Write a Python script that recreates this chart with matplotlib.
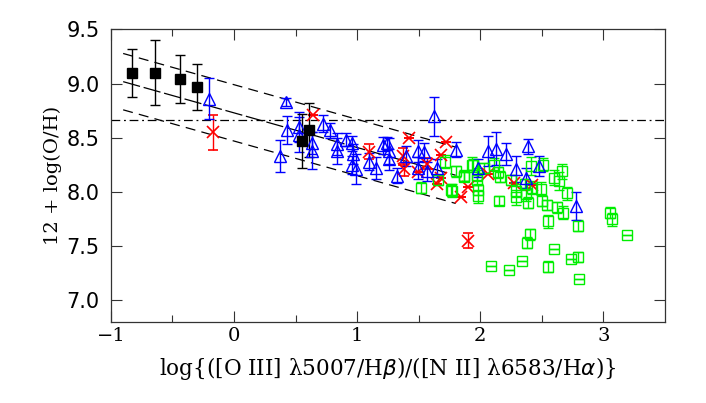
import numpy as np
import matplotlib
matplotlib.use("Agg")
import matplotlib.pyplot as plt

# black filled squares
blk_x = [-0.83, -0.64, -0.44, -0.30, 0.55, 0.61]
blk_y = [9.10, 9.10, 9.04, 8.97, 8.47, 8.57]
blk_e = [0.22, 0.30, 0.22, 0.21, 0.25, 0.25]

# red crosses
red_x = [-0.17, 0.64, 1.10, 1.42, 1.37, 1.38, 1.49, 1.57, 1.72, 1.68, 1.68, 1.65, 1.90, 1.84, 2.06, 1.90, 2.27, 2.42]
red_y = [8.55, 8.71, 8.37, 8.50, 8.33, 8.21, 8.18, 8.26, 8.46, 8.34, 8.13, 8.07, 8.05, 7.95, 8.17, 7.55, 8.08, 8.06]
red_e = [0.16, 0.0, 0.07, 0.0, 0.08, 0.06, 0.0, 0.05, 0.0, 0.0, 0.0, 0.0, 0.0, 0.0, 0.0, 0.07, 0.0, 0.0]

# blue open triangles
blu_x = [-0.20, 0.42, 0.37, 0.43, 0.53, 0.53, 0.63, 0.63, 0.72, 0.78, 0.84, 0.84, 0.91, 0.96,
         0.97, 0.96, 0.99, 1.10, 1.15, 1.21, 1.24, 1.26, 1.26, 1.32, 1.40, 1.49, 1.49, 1.54,
         1.57, 1.62, 1.65, 1.80, 1.98, 2.06, 2.13, 2.21, 2.29, 2.37, 2.39, 2.48, 2.78]
blu_y = [8.86, 8.83, 8.33, 8.57, 8.60, 8.53, 8.45, 8.38, 8.63, 8.57, 8.44, 8.38, 8.48, 8.45,
         8.35, 8.25, 8.21, 8.28, 8.22, 8.43, 8.45, 8.38, 8.30, 8.15, 8.33, 8.38, 8.22, 8.37,
         8.19, 8.70, 8.22, 8.39, 8.22, 8.38, 8.40, 8.35, 8.21, 8.13, 8.42, 8.24, 7.87]
blu_e = [0.19, 0.04, 0.15, 0.13, 0.14, 0.16, 0.10, 0.17, 0.08, 0.07, 0.10, 0.12, 0.06, 0.07,
         0.09, 0.08, 0.14, 0.08, 0.10, 0.08, 0.06, 0.12, 0.10, 0.07, 0.09, 0.10, 0.10, 0.08,
         0.09, 0.18, 0.08, 0.07, 0.08, 0.14, 0.15, 0.10, 0.12, 0.09, 0.07, 0.09, 0.13]

# green open squares
grn_x = [1.52, 1.66, 1.71, 1.77, 1.80, 1.87, 1.87, 1.93, 1.97, 1.98, 1.98, 1.97, 2.03, 2.11,
         2.14, 2.16, 2.15, 2.25, 2.29, 2.29, 2.36, 2.37, 2.41, 2.39, 2.42, 2.40, 2.38, 2.49,
         2.51, 2.50, 2.54, 2.55, 2.60, 2.62, 2.64, 2.66, 2.67, 2.70, 2.60, 2.55, 2.34, 2.09,
         2.23, 2.74, 2.79, 2.80, 2.79, 3.05, 3.07, 3.19, 1.76, 1.94]
grn_y = [8.04, 8.11, 8.28, 8.01, 8.19, 8.14, 8.15, 8.25, 8.16, 8.02, 7.96, 8.11, 8.22, 8.25,
         8.18, 8.14, 7.92, 8.11, 8.01, 7.95, 8.07, 7.98, 8.24, 7.90, 8.04, 7.61, 7.53, 8.03,
         8.25, 7.92, 7.88, 7.73, 8.13, 7.86, 8.10, 8.19, 7.81, 7.99, 7.47, 7.31, 7.36, 7.32,
         7.28, 7.38, 7.40, 7.20, 7.69, 7.81, 7.75, 7.60, 8.02, 8.25]
grn_e = [0.05, 0.05, 0.06, 0.06, 0.05, 0.04, 0.05, 0.07, 0.06, 0.05, 0.06, 0.05, 0.05, 0.06,
         0.05, 0.05, 0.04, 0.05, 0.06, 0.07, 0.05, 0.06, 0.08, 0.05, 0.06, 0.05, 0.05, 0.06,
         0.06, 0.05, 0.05, 0.06, 0.07, 0.05, 0.08, 0.07, 0.06, 0.06, 0.0, 0.05, 0.0, 0.0,
         0.0, 0.0, 0.05, 0.0, 0.05, 0.05, 0.06, 0.0, 0.05, 0.05]

# fitted relation and its spread, solar value
fit_x = [-0.9, 1.8]
fit_a = [8.73, 8.99, 8.47]
fit_b = -0.32
solar = 8.66

fig = plt.figure(figsize=(7.06, 4.03), dpi=100)
ax = fig.add_axes([0.157, 0.201, 0.785, 0.726])

ax.axhline(solar, color="black", lw=0.9, ls=(0, (7, 3, 1.5, 3)))
xx = np.array(fit_x)
ax.plot(xx, fit_a[0] + fit_b * xx, color="black", lw=0.9, ls=(0, (14, 3)))
ax.plot(xx, fit_a[1] + fit_b * xx, color="black", lw=0.9, ls=(0, (8, 5)))
ax.plot(xx, fit_a[2] + fit_b * xx, color="black", lw=0.9, ls=(0, (8, 5)))

eb = dict(ls="none", elinewidth=1.0, capsize=3.5, capthick=1.0)
ax.errorbar(red_x, red_y, yerr=red_e, fmt="x", ms=8, mec="#ff0000",
            mew=1.2, ecolor="#ff0000", **eb)
ax.errorbar(grn_x, grn_y, yerr=grn_e, fmt="s", ms=7.5, mfc="none", mec="#00ee00",
            mew=1.0, ecolor="#00ee00", **eb)
ax.errorbar(blu_x, blu_y, yerr=blu_e, fmt="^", ms=9, mfc="none", mec="#0000ff",
            mew=1.0, ecolor="#0000ff", **eb)
ax.errorbar(blk_x, blk_y, yerr=blk_e, fmt="s", ms=6.5, mfc="black", mec="black",
            ecolor="black", **eb)

ax.set_xlim(-1, 3.5)
ax.set_ylim(6.8, 9.5)
ax.set_xticks([-1, 0, 1, 2, 3])
ax.set_xticks([-0.5, 0.5, 1.5, 2.5], minor=True)
ax.set_yticks([7.0, 7.5, 8.0, 8.5, 9.0, 9.5])
ax.set_yticklabels(["7.0", "7.5", "8.0", "8.5", "9.0", "9.5"], fontsize=15)
ax.set_xticklabels(["\u22121", "0", "1", "2", "3"], fontsize=14, family="DejaVu Serif")
ax.tick_params(which="both", direction="in", top=True, right=True, width=0.8,
               color="#333333")
ax.tick_params(which="major", length=8)
ax.tick_params(which="minor", length=5)
ax.tick_params(axis="y", pad=8)
for s in ax.spines.values():
    s.set_linewidth(0.9)
    s.set_color("#333333")

ax.set_ylabel("12 + log(O/H)", fontsize=14, family="DejaVu Serif", labelpad=3)
ax.set_xlabel("log{([O III] \u03bb5007/H$\\beta$)/([N II] \u03bb6583/H$\\alpha$)}",
              fontsize=15.5, family="DejaVu Serif", labelpad=7)

fig.savefig("out.png", dpi=100)
